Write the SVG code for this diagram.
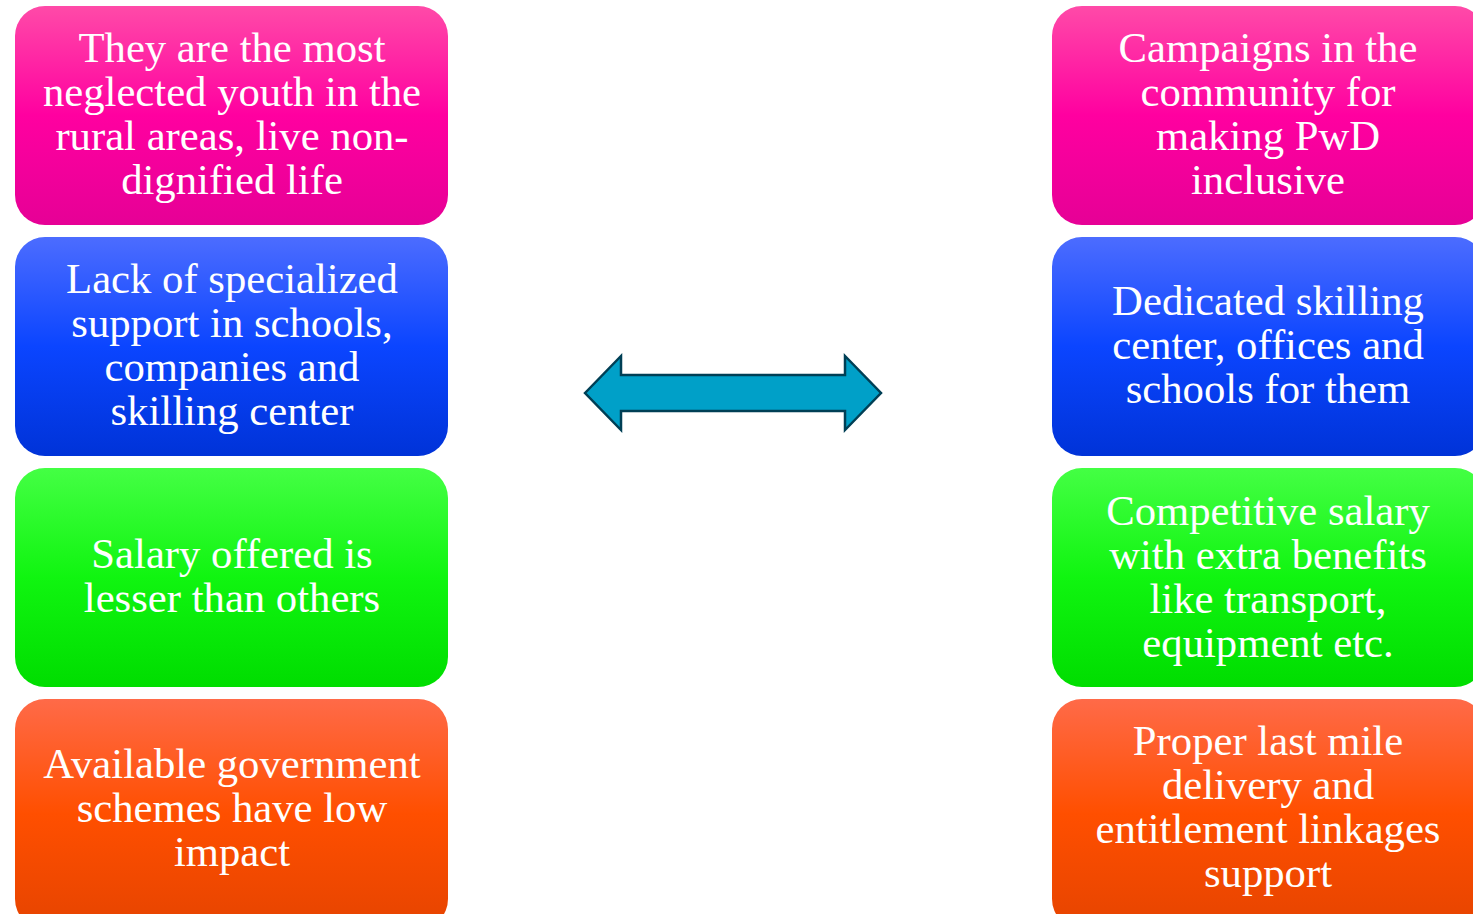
<svg xmlns="http://www.w3.org/2000/svg" width="1473" height="914" viewBox="0 0 1473 914">
<defs>
<linearGradient id="gPink" x1="0" y1="0" x2="0" y2="1"><stop offset="0" stop-color="#ff4aa8"/><stop offset="0.5" stop-color="#ff00a0"/><stop offset="1" stop-color="#e60096"/></linearGradient>
<linearGradient id="gBlue" x1="0" y1="0" x2="0" y2="1"><stop offset="0" stop-color="#4c6cff"/><stop offset="0.5" stop-color="#0b45ff"/><stop offset="1" stop-color="#0033d8"/></linearGradient>
<linearGradient id="gGreen" x1="0" y1="0" x2="0" y2="1"><stop offset="0" stop-color="#44ff44"/><stop offset="0.5" stop-color="#10f510"/><stop offset="1" stop-color="#00dd00"/></linearGradient>
<linearGradient id="gOrange" x1="0" y1="0" x2="0" y2="1"><stop offset="0" stop-color="#ff6a48"/><stop offset="0.5" stop-color="#ff4f00"/><stop offset="1" stop-color="#e64400"/></linearGradient>
</defs>
<style>
text{font-family:"Liberation Serif","Times New Roman",serif;font-size:42.7px;fill:#ffffff;text-anchor:middle}
.box{stroke:none}
</style>
<rect width="1473" height="914" fill="#ffffff"/>
<g id="connectors">
<polygon points="585,393 621,356 621,375 845,375 845,356 881,393 845,430 845,411 621,411 621,430" fill="#00a0c8" stroke="#003f55" stroke-width="2.5" stroke-linejoin="miter"/>
</g>
<g id="l1"><rect class="box" x="15" y="6" width="433" height="219" rx="30" fill="url(#gPink)"/>
<text x="232"><tspan x="232" y="62">They are the most</tspan><tspan x="232" y="106">neglected youth in the</tspan><tspan x="232" y="150">rural areas, live non-</tspan><tspan x="232" y="194">dignified life</tspan></text></g>
<g id="l2"><rect class="box" x="15" y="237" width="433" height="219" rx="30" fill="url(#gBlue)"/>
<text><tspan x="232" y="293">Lack of specialized</tspan><tspan x="232" y="337">support in schools,</tspan><tspan x="232" y="381">companies and</tspan><tspan x="232" y="425">skilling center</tspan></text></g>
<g id="l3"><rect class="box" x="15" y="468" width="433" height="219" rx="30" fill="url(#gGreen)"/>
<text><tspan x="232" y="568">Salary offered is</tspan><tspan x="232" y="612">lesser than others</tspan></text></g>
<g id="l4"><rect class="box" x="15" y="699" width="433" height="230" rx="30" fill="url(#gOrange)"/>
<text><tspan x="232" y="778">Available government</tspan><tspan x="232" y="822">schemes have low</tspan><tspan x="232" y="866">impact</tspan></text></g>
<g id="r1"><rect class="box" x="1052" y="6" width="433" height="219" rx="30" fill="url(#gPink)"/>
<text><tspan x="1268" y="62">Campaigns in the</tspan><tspan x="1268" y="106">community for</tspan><tspan x="1268" y="150">making PwD</tspan><tspan x="1268" y="194">inclusive</tspan></text></g>
<g id="r2"><rect class="box" x="1052" y="237" width="433" height="219" rx="30" fill="url(#gBlue)"/>
<text><tspan x="1268" y="315">Dedicated skilling</tspan><tspan x="1268" y="359">center, offices and</tspan><tspan x="1268" y="403">schools for them</tspan></text></g>
<g id="r3"><rect class="box" x="1052" y="468" width="433" height="219" rx="30" fill="url(#gGreen)"/>
<text><tspan x="1268" y="525">Competitive salary</tspan><tspan x="1268" y="569">with extra benefits</tspan><tspan x="1268" y="613">like transport,</tspan><tspan x="1268" y="657">equipment etc.</tspan></text></g>
<g id="r4"><rect class="box" x="1052" y="699" width="433" height="230" rx="30" fill="url(#gOrange)"/>
<text><tspan x="1268" y="755">Proper last mile</tspan><tspan x="1268" y="799">delivery and</tspan><tspan x="1268" y="843">entitlement linkages</tspan><tspan x="1268" y="887">support</tspan></text></g>
</svg>
